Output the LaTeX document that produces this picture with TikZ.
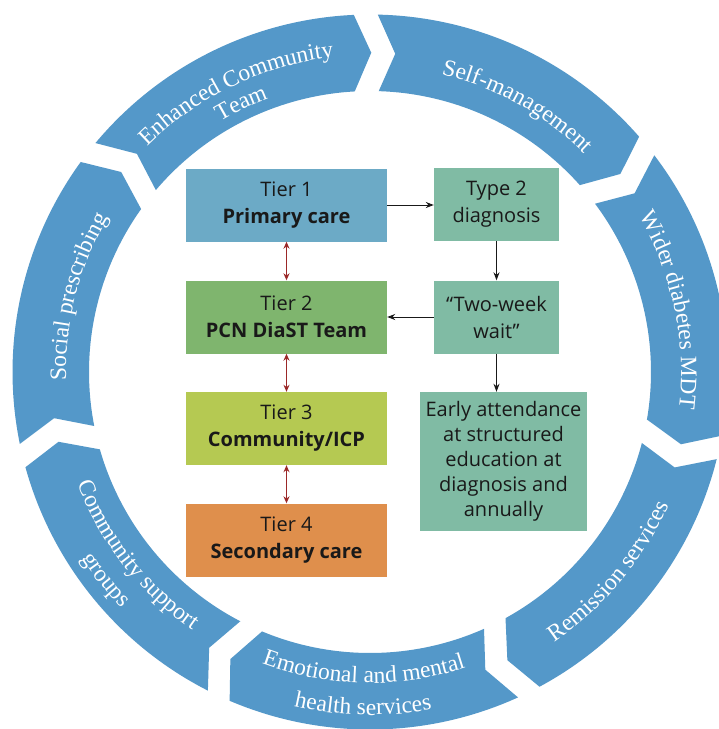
\documentclass[tikz,border=0pt]{standalone}
\usepackage{fontspec}
\usetikzlibrary{decorations.text,arrows.meta}
\newfontfamily\ringfont{Liberation Serif}
\newfontfamily\boxfont{Open Sans}
\definecolor{ringblue}{RGB}{84,152,201}
\definecolor{tierone}{RGB}{108,170,198}
\definecolor{tiertwo}{RGB}{127,181,110}
\definecolor{tierthree}{RGB}{181,201,82}
\definecolor{tierfour}{RGB}{223,143,76}
\definecolor{tealbox}{RGB}{128,187,164}
\definecolor{arrowred}{RGB}{155,40,40}
\definecolor{inkdark}{RGB}{25,25,25}
\newcommand{\ringcw}[3]{%
  \path[decorate,decoration={text along path,text align=center,text color=white,
    text={|\ringfont\fontsize{23.5}{24}\selectfont|#3}}]
    ({#1+30}:#2pt) arc[start angle={#1+30},end angle={#1-30},radius=#2pt];}
\newcommand{\ringccw}[3]{%
  \path[decorate,decoration={text along path,text align=center,text color=white,
    text={|\ringfont\fontsize{23.5}{24}\selectfont|#3}}]
    ({#1-30}:#2pt) arc[start angle={#1-30},end angle={#1+30},radius=#2pt];}
\begin{document}
\begin{tikzpicture}[x=1pt,y=1pt,
  box/.style={inner sep=0pt,align=center,text=inkdark,
    font=\boxfont\fontsize{20}{27}\selectfont},
  tierbox/.style={box,minimum width=201pt,minimum height=73pt},
  smallbox/.style={box,fill=tealbox,minimum width=125pt,minimum height=73pt},
  flow/.style={-{Stealth[length=8pt,width=6pt]},line width=1pt,inkdark},
  tierlink/.style={{Stealth[length=7pt,width=6pt]}-{Stealth[length=7pt,width=6pt]},
    line width=1.1pt,arrowred}]
\useasboundingbox (0,0) rectangle (719,-729);
\clip (0,0) rectangle (719,-729);
\fill[white] (0,0) rectangle (719,-729);
% ring
\begin{scope}[shift={(370,-372)}]
\foreach \i in {0,...,6}{
  \pgfmathsetmacro\sa{142.1-51.4286*\i}
  \pgfmathsetmacro\ea{\sa-51.4286}
  \fill[ringblue] ({\sa-1.924}:357.5pt)
    arc[start angle={\sa-1.924},end angle={\ea+1.924},radius=357.5pt]
    -- ({\ea-0.897}:319.25pt) -- ({\ea+2.448}:281pt)
    arc[start angle={\ea+2.448},end angle={\sa-2.448},radius=281pt]
    -- ({\sa-5.21}:319.25pt) -- cycle;
}
\ringcw{115.6}{317}{Enhanced Community}
\ringcw{115.6}{292}{Team}
\ringcw{61}{306}{Self-management}
\ringcw{11.7}{311}{Wider diabetes MDT}
\ringccw{-39.8}{327}{Remission services}
\ringccw{-91.2}{311}{Emotional and mental}
\ringccw{-91.2}{343}{health services}
\ringccw{-141.8}{313}{Community support}
\ringccw{-141.8}{343}{groups}
\ringcw{165.5}{304}{Social prescribing}
\end{scope}
% boxes
\node[tierbox,fill=tierone] (t1) at (286.5,-205) {Tier 1\\\textbf{Primary care}};
\node[tierbox,fill=tiertwo] (t2) at (286.5,-317) {Tier 2\\\textbf{PCN DiaST Team}};
\node[tierbox,fill=tierthree] (t3) at (286.5,-428.5) {Tier 3\\\textbf{Community/ICP}};
\node[tierbox,fill=tierfour] (t4) at (286.5,-540) {Tier 4\\\textbf{Secondary care}};
\node[smallbox] (diag) at (496.5,-204.5) {Type 2\\diagnosis};
\node[smallbox] (wait) at (496.5,-317) {“Two-week\\wait”};
\node[box,fill=tealbox,minimum width=167pt,minimum height=139pt,
  font=\boxfont\fontsize{20}{25}\selectfont] (early) at (503.5,-461.5)
  {Early attendance\\at structured\\education at\\diagnosis and\\annually};
% connectors
\draw[flow] (t1.east) -- (t1.east -| diag.west);
\draw[flow] (diag.south) -- (wait.north);
\draw[flow] (wait.west) -- (wait.west -| t2.east);
\draw[flow] (wait.south) -- (wait.south |- early.north);
\draw[tierlink] (t1.south) -- (t2.north);
\draw[tierlink] (t2.south) -- (t3.north);
\draw[tierlink] (t3.south) -- (t4.north);
\end{tikzpicture}
\end{document}
